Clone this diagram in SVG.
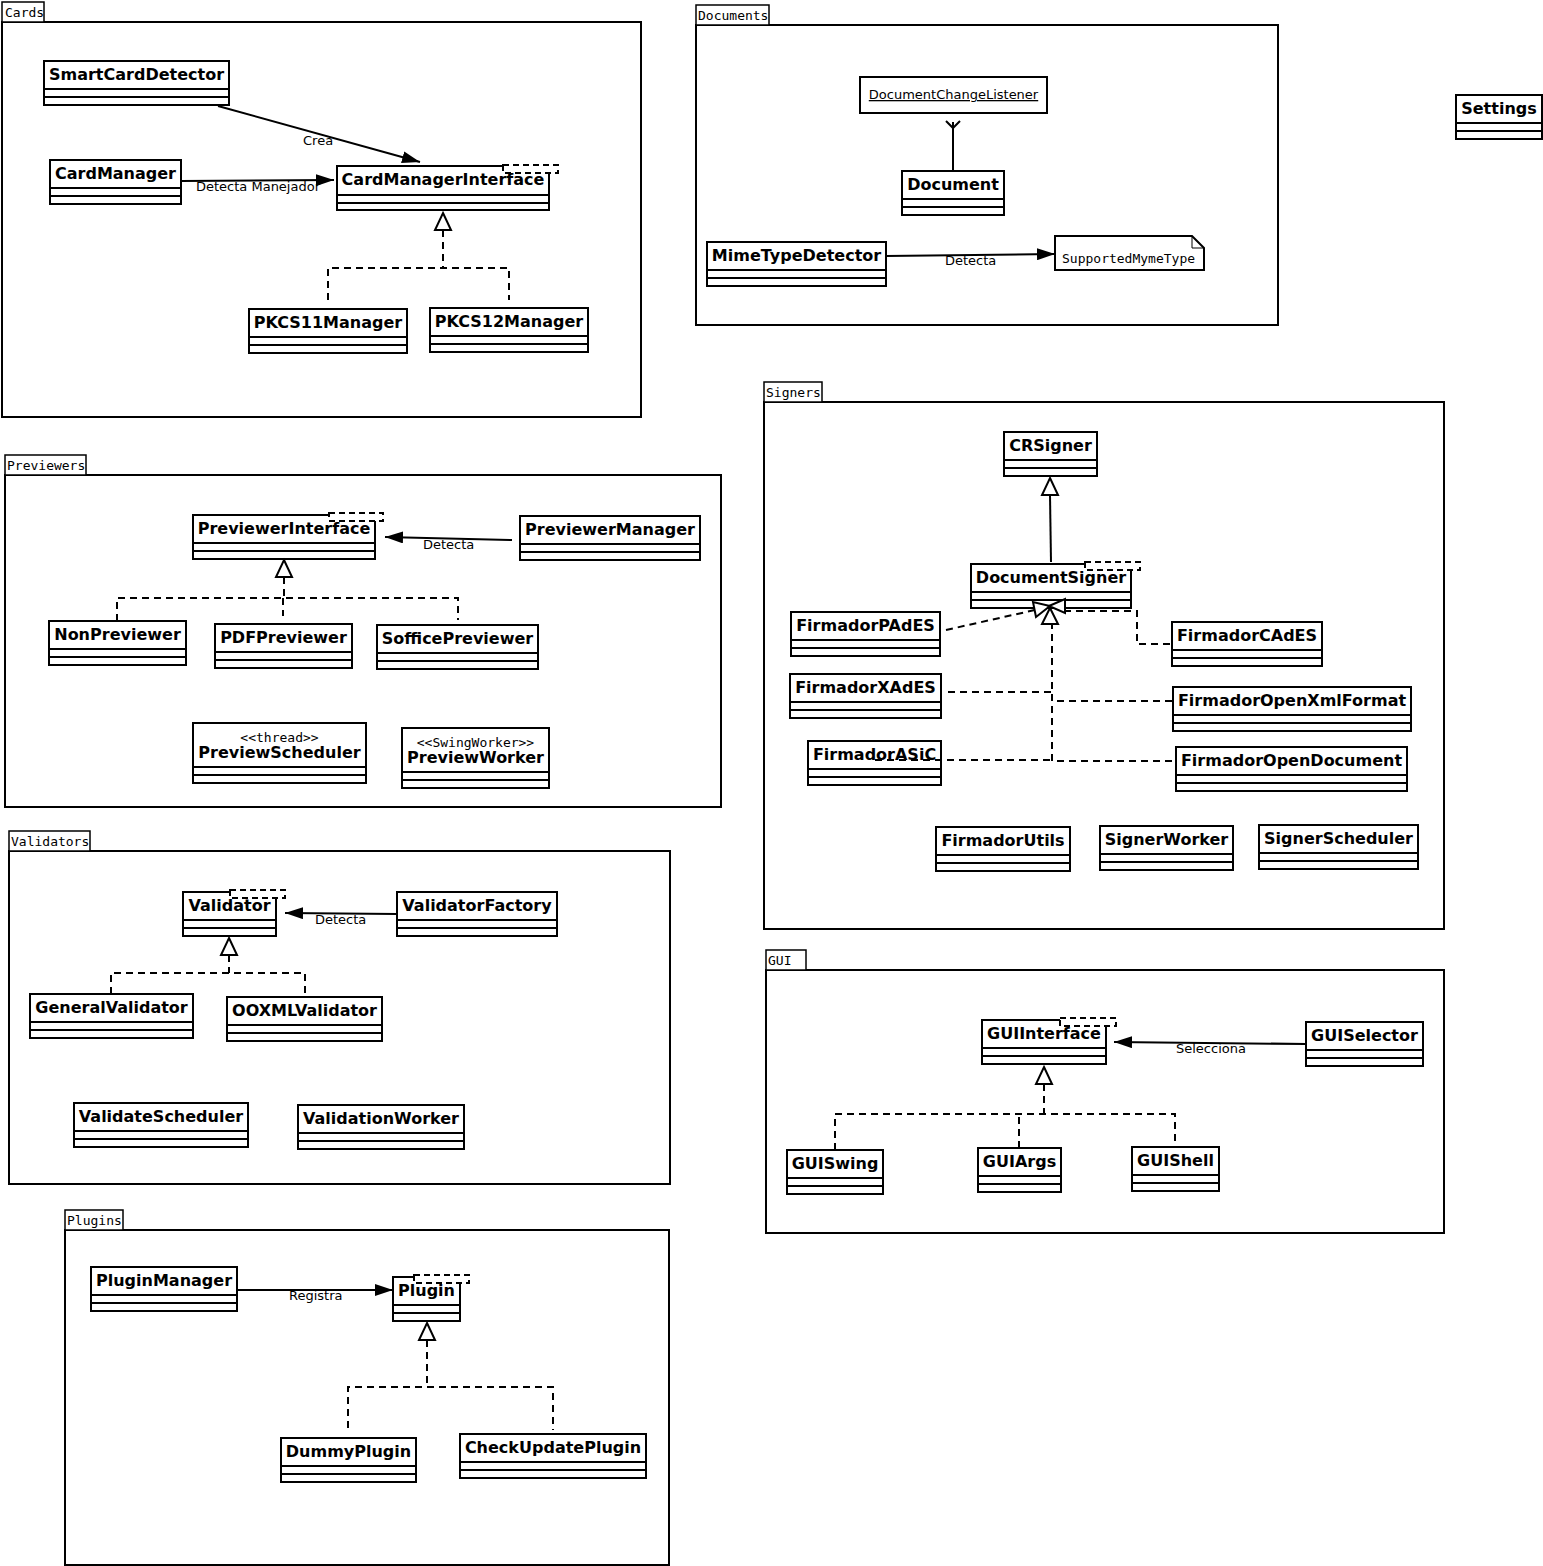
<svg xmlns="http://www.w3.org/2000/svg" width="1543" height="1566" viewBox="0 0 1543 1566">
<style>
.bg{fill:#fff}
.box{fill:#fff;stroke:#000;stroke-width:2}
.sep{stroke:#000;stroke-width:2;fill:none}
.name{font-family:"DejaVu Sans",sans-serif;font-weight:bold;font-size:16px;text-anchor:middle;fill:#000}
.lbl{font-family:"DejaVu Sans",sans-serif;font-size:13px;fill:#000}
.mono{font-family:"DejaVu Sans Mono",monospace;font-size:13px;fill:#000}
.pkg{fill:none;stroke:#000;stroke-width:2}
.tab{fill:#fff;stroke:#000;stroke-width:1.5}
.dash{fill:none;stroke:#000;stroke-width:2;stroke-dasharray:7,5}
.solid{fill:none;stroke:#000;stroke-width:2}
.tri{fill:#fff;stroke:#000;stroke-width:2}
.tmpl{fill:#fff;stroke:#000;stroke-width:2;stroke-dasharray:6,4}
</style>
<defs>
<marker id="arr" markerUnits="userSpaceOnUse" viewBox="0 0 18 12" refX="18" refY="6" markerWidth="18" markerHeight="12" orient="auto">
<path d="M0,0 L18,6 L0,12 z" fill="#000"/>
</marker>
</defs>
<rect class="bg" x="0" y="0" width="1543" height="1566"/>

<!-- Packages -->
<g id="pkg-Cards"><rect class="pkg" x="2" y="22" width="639" height="395"/><rect class="tab" x="2" y="2" width="42" height="20"/><text class="mono" x="5" y="17">Cards</text></g>
<g id="pkg-Documents"><rect class="pkg" x="696" y="25" width="582" height="300"/><rect class="tab" x="696" y="5" width="73" height="20"/><text class="mono" x="698" y="20">Documents</text></g>
<g id="pkg-Signers"><rect class="pkg" x="764" y="402" width="680" height="527"/><rect class="tab" x="764" y="382" width="58" height="20"/><text class="mono" x="766" y="397">Signers</text></g>
<g id="pkg-GUI"><rect class="pkg" x="766" y="970" width="678" height="263"/><rect class="tab" x="766" y="950" width="40" height="20"/><text class="mono" x="768" y="965">GUI</text></g>
<g id="pkg-Previewers"><rect class="pkg" x="5" y="475" width="716" height="332"/><rect class="tab" x="5" y="455" width="81" height="20"/><text class="mono" x="7" y="470">Previewers</text></g>
<g id="pkg-Validators"><rect class="pkg" x="9" y="851" width="661" height="333"/><rect class="tab" x="9" y="831" width="81" height="20"/><text class="mono" x="11" y="846">Validators</text></g>
<g id="pkg-Plugins"><rect class="pkg" x="65" y="1230" width="604" height="335"/><rect class="tab" x="65" y="1210" width="58" height="20"/><text class="mono" x="67" y="1225">Plugins</text></g>

<!-- Cards -->
<g id="SmartCardDetector"><rect class="box" x="44" y="61" width="185" height="44"/><path class="sep" d="M44,89 h185 M44,97 h185"/><text class="name" x="136.5" y="80">SmartCardDetector</text></g>
<g id="CardManager"><rect class="box" x="50" y="160" width="131" height="44"/><path class="sep" d="M50,188 h131 M50,196 h131"/><text class="name" x="115.5" y="179">CardManager</text></g>
<g id="CardManagerInterface"><rect class="box" x="337" y="166" width="212" height="44"/><path class="sep" d="M337,195 h212 M337,203 h212"/><rect class="tmpl" x="503" y="165" width="55" height="8"/><text class="name" x="443" y="185">CardManagerInterface</text></g>
<g id="PKCS11Manager"><rect class="box" x="249" y="309" width="158" height="44"/><path class="sep" d="M249,337 h158 M249,345 h158"/><text class="name" x="328" y="328">PKCS11Manager</text></g>
<g id="PKCS12Manager"><rect class="box" x="430" y="308" width="158" height="44"/><path class="sep" d="M430,336 h158 M430,344 h158"/><text class="name" x="509" y="327">PKCS12Manager</text></g>

<!-- Documents -->
<g id="DocumentChangeListener"><rect class="box" x="860" y="77" width="187" height="36"/><text class="lbl" x="953.5" y="99" text-anchor="middle" text-decoration="underline">DocumentChangeListener</text></g>
<g id="Document"><rect class="box" x="902" y="171" width="102" height="44"/><path class="sep" d="M902,199 h102 M902,207 h102"/><text class="name" x="953" y="190">Document</text></g>
<g id="MimeTypeDetector"><rect class="box" x="707" y="242" width="179" height="44"/><path class="sep" d="M707,270 h179 M707,278 h179"/><text class="name" x="796.5" y="261">MimeTypeDetector</text></g>
<g id="SupportedMymeType"><path class="box" d="M1055,236 H1192 L1204,248 V270 H1055 Z"/><path class="sep" style="stroke-width:1" d="M1192,236 V248 H1204"/><text class="mono" x="1062" y="263">SupportedMymeType</text></g>

<!-- Settings -->
<g id="Settings"><rect class="box" x="1456" y="95" width="86" height="44"/><path class="sep" d="M1456,123 h86 M1456,131 h86"/><text class="name" x="1499" y="114">Settings</text></g>

<!-- Signers -->
<g id="CRSigner"><rect class="box" x="1004" y="432" width="93" height="44"/><path class="sep" d="M1004,460 h93 M1004,468 h93"/><text class="name" x="1050.5" y="451">CRSigner</text></g>
<g id="DocumentSigner"><rect class="box" x="971" y="564" width="160" height="44"/><path class="sep" d="M971,592 h160 M971,600 h160"/><rect class="tmpl" x="1085" y="562" width="55" height="8"/><text class="name" x="1051" y="583">DocumentSigner</text></g>
<g id="FirmadorPAdES"><rect class="box" x="791" y="612" width="149" height="44"/><path class="sep" d="M791,640 h149 M791,648 h149"/><text class="name" x="865.5" y="631">FirmadorPAdES</text></g>
<g id="FirmadorXAdES"><rect class="box" x="790" y="674" width="151" height="44"/><path class="sep" d="M790,702 h151 M790,710 h151"/><text class="name" x="865.5" y="693">FirmadorXAdES</text></g>
<g id="FirmadorASiC"><rect class="box" x="808" y="741" width="133" height="44"/><path class="sep" d="M808,769 h133 M808,777 h133"/><text class="name" x="874.5" y="760">FirmadorASiC</text></g>
<g id="FirmadorCAdES"><rect class="box" x="1172" y="622" width="150" height="44"/><path class="sep" d="M1172,650 h150 M1172,658 h150"/><text class="name" x="1247" y="641">FirmadorCAdES</text></g>
<g id="FirmadorOpenXmlFormat"><rect class="box" x="1173" y="687" width="238" height="44"/><path class="sep" d="M1173,715 h238 M1173,723 h238"/><text class="name" x="1292" y="706">FirmadorOpenXmlFormat</text></g>
<g id="FirmadorOpenDocument"><rect class="box" x="1176" y="747" width="231" height="44"/><path class="sep" d="M1176,775 h231 M1176,783 h231"/><text class="name" x="1291.5" y="766">FirmadorOpenDocument</text></g>
<g id="FirmadorUtils"><rect class="box" x="936" y="827" width="134" height="44"/><path class="sep" d="M936,855 h134 M936,863 h134"/><text class="name" x="1003" y="846">FirmadorUtils</text></g>
<g id="SignerWorker"><rect class="box" x="1100" y="826" width="133" height="44"/><path class="sep" d="M1100,854 h133 M1100,862 h133"/><text class="name" x="1166.5" y="845">SignerWorker</text></g>
<g id="SignerScheduler"><rect class="box" x="1259" y="825" width="159" height="44"/><path class="sep" d="M1259,853 h159 M1259,861 h159"/><text class="name" x="1338.5" y="844">SignerScheduler</text></g>

<!-- GUI -->
<g id="GUIInterface"><rect class="box" x="982" y="1020" width="124" height="44"/><path class="sep" d="M982,1048 h124 M982,1056 h124"/><rect class="tmpl" x="1060" y="1018" width="56" height="8"/><text class="name" x="1044" y="1039">GUIInterface</text></g>
<g id="GUISelector"><rect class="box" x="1306" y="1022" width="117" height="44"/><path class="sep" d="M1306,1050 h117 M1306,1058 h117"/><text class="name" x="1364.5" y="1041">GUISelector</text></g>
<g id="GUISwing"><rect class="box" x="787" y="1150" width="96" height="44"/><path class="sep" d="M787,1178 h96 M787,1186 h96"/><text class="name" x="835" y="1169">GUISwing</text></g>
<g id="GUIArgs"><rect class="box" x="978" y="1148" width="83" height="44"/><path class="sep" d="M978,1176 h83 M978,1184 h83"/><text class="name" x="1019.5" y="1167">GUIArgs</text></g>
<g id="GUIShell"><rect class="box" x="1132" y="1147" width="87" height="44"/><path class="sep" d="M1132,1175 h87 M1132,1183 h87"/><text class="name" x="1175.5" y="1166">GUIShell</text></g>

<!-- Previewers -->
<g id="PreviewerInterface"><rect class="box" x="193" y="515" width="182" height="44"/><path class="sep" d="M193,543 h182 M193,551 h182"/><rect class="tmpl" x="329" y="513" width="54" height="8"/><text class="name" x="284" y="534">PreviewerInterface</text></g>
<g id="PreviewerManager"><rect class="box" x="520" y="516" width="180" height="44"/><path class="sep" d="M520,544 h180 M520,552 h180"/><text class="name" x="610" y="535">PreviewerManager</text></g>
<g id="NonPreviewer"><rect class="box" x="49" y="621" width="137" height="44"/><path class="sep" d="M49,649 h137 M49,657 h137"/><text class="name" x="117.5" y="640">NonPreviewer</text></g>
<g id="PDFPreviewer"><rect class="box" x="215" y="624" width="137" height="44"/><path class="sep" d="M215,652 h137 M215,660 h137"/><text class="name" x="283.5" y="643">PDFPreviewer</text></g>
<g id="SofficePreviewer"><rect class="box" x="377" y="625" width="161" height="44"/><path class="sep" d="M377,653 h161 M377,661 h161"/><text class="name" x="457.5" y="644">SofficePreviewer</text></g>
<g id="PreviewScheduler"><rect class="box" x="193" y="723" width="173" height="60"/><path class="sep" d="M193,767 h173 M193,775 h173"/><text class="mono" x="279.5" y="742" text-anchor="middle">&lt;&lt;thread&gt;&gt;</text><text class="name" x="279.5" y="758">PreviewScheduler</text></g>
<g id="PreviewWorker"><rect class="box" x="402" y="728" width="147" height="60"/><path class="sep" d="M402,772 h147 M402,780 h147"/><text class="mono" x="475.5" y="747" text-anchor="middle">&lt;&lt;SwingWorker&gt;&gt;</text><text class="name" x="475.5" y="763">PreviewWorker</text></g>

<!-- Validators -->
<g id="Validator"><rect class="box" x="183" y="892" width="93" height="44"/><path class="sep" d="M183,920 h93 M183,928 h93"/><rect class="tmpl" x="230" y="890" width="55" height="8"/><text class="name" x="229.5" y="911">Validator</text></g>
<g id="ValidatorFactory"><rect class="box" x="397" y="892" width="160" height="44"/><path class="sep" d="M397,920 h160 M397,928 h160"/><text class="name" x="477" y="911">ValidatorFactory</text></g>
<g id="GeneralValidator"><rect class="box" x="30" y="994" width="163" height="44"/><path class="sep" d="M30,1022 h163 M30,1030 h163"/><text class="name" x="111.5" y="1013">GeneralValidator</text></g>
<g id="OOXMLValidator"><rect class="box" x="227" y="997" width="155" height="44"/><path class="sep" d="M227,1025 h155 M227,1033 h155"/><text class="name" x="304.5" y="1016">OOXMLValidator</text></g>
<g id="ValidateScheduler"><rect class="box" x="74" y="1103" width="174" height="44"/><path class="sep" d="M74,1131 h174 M74,1139 h174"/><text class="name" x="161" y="1122">ValidateScheduler</text></g>
<g id="ValidationWorker"><rect class="box" x="298" y="1105" width="166" height="44"/><path class="sep" d="M298,1133 h166 M298,1141 h166"/><text class="name" x="381" y="1124">ValidationWorker</text></g>

<!-- Plugins -->
<g id="PluginManager"><rect class="box" x="91" y="1267" width="146" height="44"/><path class="sep" d="M91,1295 h146 M91,1303 h146"/><text class="name" x="164" y="1286">PluginManager</text></g>
<g id="Plugin"><rect class="box" x="393" y="1277" width="67" height="44"/><path class="sep" d="M393,1305 h67 M393,1313 h67"/><rect class="tmpl" x="414" y="1275" width="55" height="8"/><text class="name" x="426.5" y="1296">Plugin</text></g>
<g id="DummyPlugin"><rect class="box" x="281" y="1438" width="135" height="44"/><path class="sep" d="M281,1466 h135 M281,1474 h135"/><text class="name" x="348.5" y="1457">DummyPlugin</text></g>
<g id="CheckUpdatePlugin"><rect class="box" x="460" y="1434" width="186" height="44"/><path class="sep" d="M460,1462 h186 M460,1470 h186"/><text class="name" x="553" y="1453">CheckUpdatePlugin</text></g>

<!-- Connectors -->
<g id="connectors">
<line class="solid" x1="218" y1="106" x2="420" y2="162" marker-end="url(#arr)"/>
<text class="lbl" x="303" y="145">Crea</text>
<line class="solid" x1="181" y1="181" x2="334" y2="180" marker-end="url(#arr)"/>
<text class="lbl" x="196" y="191">Detecta Manejador</text>
<polygon class="tri" points="443,213 451,230 435,230"/>
<path class="dash" d="M443,230 V267 M328,300 V268 H509 V300"/>

<path class="solid" d="M953,171 V122 M946,121 L953,128 L960,121"/>
<line class="solid" x1="886" y1="256" x2="1055" y2="254" marker-end="url(#arr)"/>
<text class="lbl" x="945" y="265">Detecta</text>

<line class="solid" x1="1051" y1="562" x2="1050" y2="495"/>
<polygon class="tri" points="1050,478 1058,495 1042,495"/>
<path class="dash" d="M946,630 L1035,610"/>
<path class="dash" d="M1170,644 H1137 V611 H1065"/>
<path class="dash" d="M1052,761 V624"/>
<path class="dash" d="M948,692 H1052"/>
<path class="dash" d="M1172,701 H1052"/>
<path class="dash" d="M875,760 H1052"/>
<path class="dash" d="M1172,761 H1052"/>
<polygon class="tri" points="1050,606 1036,617 1033,602"/>
<polygon class="tri" points="1049,606 1065,599 1065,613"/>
<polygon class="tri" points="1050,608 1058,624 1042,624"/>

<line class="solid" x1="512" y1="540" x2="385" y2="537" marker-end="url(#arr)"/>
<text class="lbl" x="423" y="549">Detecta</text>
<polygon class="tri" points="284,560 292,577 276,577"/>
<path class="dash" d="M284,577 V598 M117,621 V598 H458 V620 M283,598 V616"/>

<line class="solid" x1="397" y1="914" x2="285" y2="913" marker-end="url(#arr)"/>
<text class="lbl" x="315" y="924">Detecta</text>
<polygon class="tri" points="229,938 237,955 221,955"/>
<path class="dash" d="M229,955 V973 M111,994 V973 H305 V997"/>

<line class="solid" x1="1306" y1="1044" x2="1114" y2="1042" marker-end="url(#arr)"/>
<text class="lbl" x="1176" y="1053">Selecciona</text>
<polygon class="tri" points="1044,1067 1052,1084 1036,1084"/>
<path class="dash" d="M1044,1084 V1113 M835,1150 V1114 H1175 V1147 M1019,1148 V1114"/>

<line class="solid" x1="237" y1="1290" x2="393" y2="1290" marker-end="url(#arr)"/>
<text class="lbl" x="289" y="1300">Registra</text>
<polygon class="tri" points="427,1323 435,1340 419,1340"/>
<path class="dash" d="M427,1340 V1386 M348,1428 V1387 H553 V1430"/>
</g>
</svg>
